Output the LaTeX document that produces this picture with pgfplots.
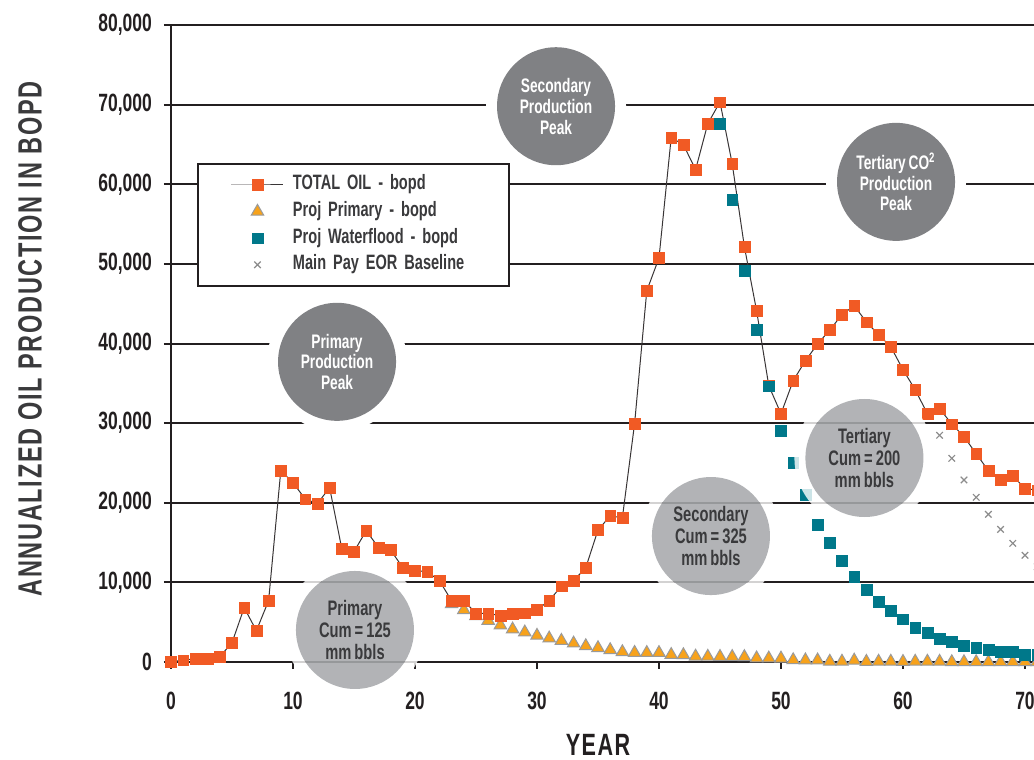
\documentclass[border=0pt]{standalone}
\usepackage{pgfplots}
\pgfplotsset{compat=1.18}
\usepackage{fontspec}
\setmainfont{Liberation Sans}[FakeStretch=0.7, WordSpace=0.75]
\newfontfamily\spaced{Liberation Sans}[FakeStretch=0.7, LetterSpace=5]

\definecolor{totoil}{HTML}{F15A24}
\definecolor{wflood}{HTML}{00788A}
\definecolor{prim}{HTML}{F7A21B}
\definecolor{primedge}{HTML}{9A9A9A}
\definecolor{eor}{HTML}{8C8C8C}
\definecolor{gridc}{HTML}{231F20}
\definecolor{txt}{HTML}{3A3A3C}
\definecolor{darkdisc}{HTML}{808184}
\definecolor{lightdisc}{HTML}{A7A9AC}

\begin{document}
\begin{tikzpicture}
\begin{axis}[
  at={(0,0)}, anchor=south west,
  width=431.5pt, height=318.5pt, scale only axis,
  xmin=0, xmax=70.74, ymin=0, ymax=80000,
  clip=false,
  axis lines=left, axis line style={-, gridc, line width=1pt},
  xtick={0,10,...,70}, ytick={0,10000,...,80000},
  hide obscured x ticks=false, hide obscured y ticks=false,
  scaled y ticks=false,
  yticklabel style={/pgf/number format/1000 sep={,}, xshift=-2.5pt},
  xticklabel style={yshift=-8pt},
  /pgf/number format/assume math mode=true,
  ymajorgrids, grid style={gridc, line width=1pt},
  tick align=outside, major tick length=3.5pt,
  tick style={gridc, line width=1pt},
  tick label style={font=\fontsize{12.5}{13}\selectfont\bfseries, text=gridc},
  xlabel={YEAR}, ylabel={ANNUALIZED OIL PRODUCTION IN BOPD},
  every axis x label/.style={at={(axis description cs:0.4948,0)}, anchor=center,
    yshift=-41.5pt, font=\spaced\fontsize{15.4}{16}\selectfont\bfseries, text=gridc},
  every axis y label/.style={at={(axis description cs:0,0.507)}, xshift=-70.5pt,
    anchor=center, rotate=90, font=\spaced\fontsize{16.8}{18}\selectfont\bfseries, text=txt},
  legend image code/.code={\draw[mark repeat=2,mark phase=2,#1]
    plot coordinates {(0pt,0pt) (13pt,0pt) (26pt,0pt)};},
  legend cell align=left,
  legend style={at={(axis cs:2.13,62670)}, anchor=north west,
    draw=gridc, line width=1pt, fill=white,
    inner xsep=16.5pt, inner ysep=6pt, row sep=4.3pt, column sep=4.5pt,
    font=\fontsize{10.4}{11}\selectfont\bfseries, text=txt,
    nodes={inner sep=0pt, text height=7pt, text depth=2pt, text width=91.5pt, align=left}},
]
% primary (projected), drawn first so that the total sits on top
\addplot[forget plot, only marks, mark=triangle*, mark size=3.6pt,
  mark options={fill=prim, draw=primedge, line width=0.5pt}] coordinates {
  (23,7280) (24,6530) (25,5780) (26,5190) (27,4610) (28,4100) (29,3730)
  (30,3310) (31,2970) (32,2680) (33,2340) (34,2010) (35,1760) (36,1510)
  (37,1260) (38,1170) (39,1150) (40,1150) (41,900) (42,880) (43,700)
  (44,680) (45,660) (46,650) (47,640) (48,480) (49,460) (50,450) (51,250)
  (52,230) (53,220) (54,60) (55,60) (56,200) (57,40) (58,60) (59,60)
  (60,30) (61,60) (62,60) (63,50) (64,0) (65,0) (66,0) (67,0) (68,0)
  (69,0) (70,0) (71,0)
};
% total oil
\addplot[gridc!90, line width=0.5pt, mark=square*, mark size=2.7pt,
  mark options={fill=totoil, draw=totoil, line width=0.1pt}] coordinates {
  (0,0) (1,250) (2,420) (3,420) (4,670) (5,2420) (6,6820) (7,3930)
  (8,7700) (9,24030) (10,22520) (11,20470) (12,19880) (13,21900)
  (14,14230) (15,13860) (16,16490) (17,14400) (18,14070) (19,11850)
  (20,11470) (21,11340) (22,10210) (23,7700) (24,7700) (25,6110)
  (26,6110) (27,5820) (28,6110) (29,6150) (30,6570) (31,7700) (32,9540)
  (33,10210) (34,11850) (35,16580) (36,18340) (37,18130) (38,29930)
  (39,46630) (40,50740) (41,65850) (42,64970) (43,61830) (44,67610)
  (45,70330) (46,62590) (47,52160) (48,44120) (49,34700) (50,31180)
  (51,35330) (52,37840) (53,39940) (54,41700) (55,43620) (56,44750)
  (57,42700) (58,41110) (59,39600) (60,36710) (61,34200) (62,31180)
  (63,31810) (64,29890) (65,28300) (66,26160) (67,24030) (68,22860)
  (69,23400) (70,21770) (71,21600)
};
\addlegendentry{TOTAL OIL - bopd}
\addlegendimage{only marks, mark=triangle*, mark size=3.6pt,
  mark options={fill=prim, draw=primedge, line width=0.5pt}}
\addlegendentry{Proj Primary - bopd}
% waterflood (projected)
\addplot[only marks, mark=square*, mark size=2.7pt,
  mark options={fill=wflood, draw=wflood, line width=0.1pt}] coordinates {
  (45,67610) (46,58110) (47,49150) (48,41740) (49,34660) (50,29050)
  (51,25030) (52,21010) (53,17210) (54,14950) (55,12730) (56,10720)
  (57,9080) (58,7540) (59,6410) (60,5400) (61,4350) (62,3690) (63,2970)
  (64,2550) (65,2090) (66,1760) (67,1510) (68,1260) (69,1260) (70,920)
  (71,900)
};
\addlegendentry{Proj Waterflood - bopd}
% main pay EOR baseline
\addplot[only marks, mark=x, mark size=2.3pt, eor, line width=0.6pt] coordinates {
  (63,28470) (64,25580) (65,22860) (66,20680) (67,18550) (68,16660)
  (69,14900) (70,13400) (71,11970)
};
\addlegendentry{Main Pay EOR Baseline}

\coordinate (pk2) at (axis cs:31.56,69800);
\coordinate (pk3) at (axis cs:59.43,60300);
\coordinate (pk1) at (axis cs:13.61,37700);
\coordinate (cu1) at (axis cs:15.08,4020);
\coordinate (cu2) at (axis cs:44.26,15820);
\coordinate (cu3) at (axis cs:56.84,25620);
\end{axis}

% peak discs
\foreach \c in {pk1,pk2,pk3} {
  \fill[white] (\c) circle[radius=35pt];
  \fill[darkdisc] (\c) circle[radius=29.5pt];
}
\node[align=center, text=white, font=\fontsize{9.8}{10.4}\selectfont\bfseries] at (pk1) {Primary\\Production\\Peak};
\node[align=center, text=white, font=\fontsize{9.8}{10.4}\selectfont\bfseries] at (pk2) {Secondary\\Production\\Peak};
\node[align=center, text=white, font=\fontsize{9.8}{10.4}\selectfont\bfseries] at (pk3) {Tertiary CO\textsuperscript{2}\\Production\\Peak};

% cumulative discs
\foreach \c in {cu1,cu2,cu3} {
  \fill[white, opacity=0.8, even odd rule] (\c) circle[radius=35pt] (\c) circle[radius=29.5pt];
  \fill[lightdisc, opacity=0.88] (\c) circle[radius=29.5pt];
}
\node[align=center, text=txt, font=\fontsize{10.5}{11}\selectfont\bfseries] at (cu1) {Primary\\Cum = 125\\mm bbls};
\node[align=center, text=txt, font=\fontsize{10.5}{11}\selectfont\bfseries] at (cu2) {Secondary\\Cum = 325\\mm bbls};
\node[align=center, text=txt, font=\fontsize{10.5}{11}\selectfont\bfseries] at (cu3) {Tertiary\\Cum = 200\\mm bbls};

\pgfresetboundingbox
\useasboundingbox (-85.5pt,-49pt) rectangle (431.5pt,331pt);
\end{tikzpicture}
\end{document}
